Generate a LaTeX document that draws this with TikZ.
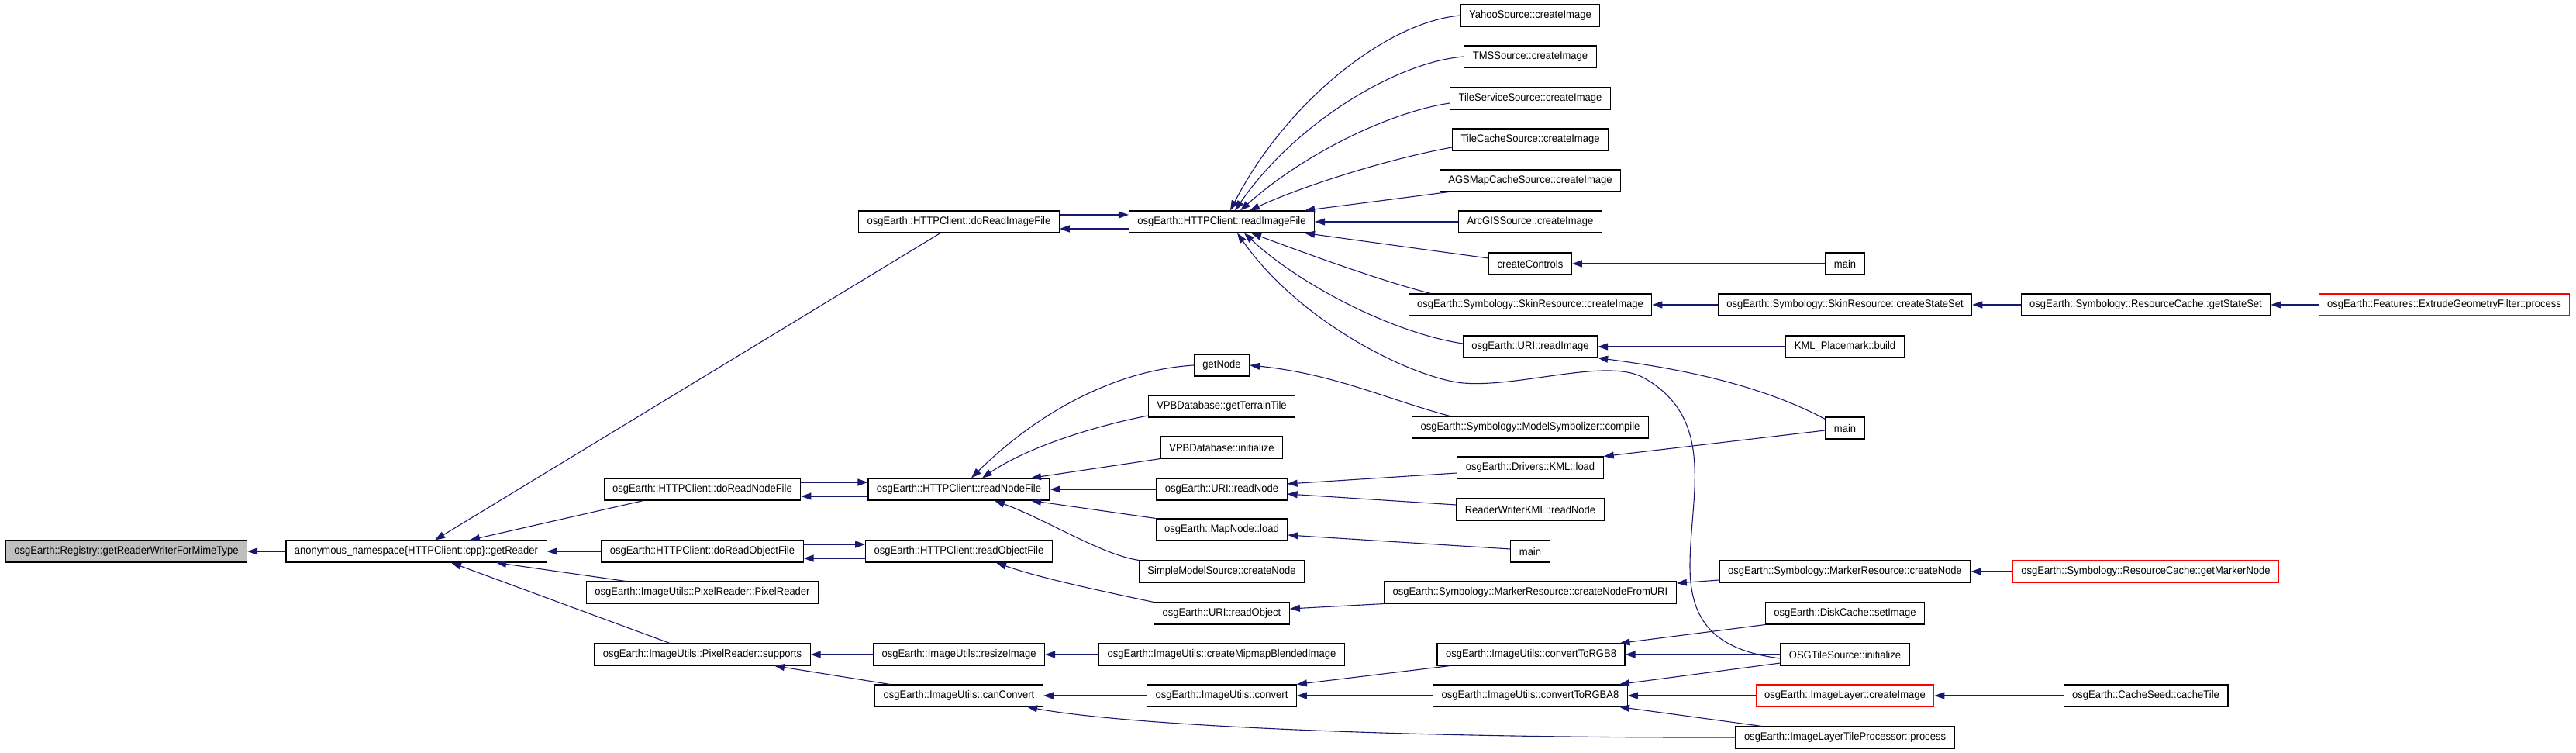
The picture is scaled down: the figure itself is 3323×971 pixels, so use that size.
\documentclass[tikz,border=0pt]{standalone}
\usepackage{fontspec}
\newfontfamily\graphfont{Liberation Sans}[FakeStretch=0.93]
\usepackage{xcolor}
\usetikzlibrary{arrows.meta, calc}

\definecolor{edgeblue}{HTML}{191970}
\tikzset{
  fn/.style={draw=black, fill=white, line width=1.1pt, minimum height=28pt,
    inner xsep=11pt, inner ysep=0pt, font=\graphfont\fontsize{14}{16}\selectfont},
  fnroot/.style={fn, fill=gray!50},
  fnhot/.style={fn, draw=red},
  call/.style={draw=edgeblue, line width=1.1pt, -{Triangle[length=13pt,width=9pt]}}
}

\begin{document}
\begin{tikzpicture}[x=1pt, y=-1pt]
  % canvas = 3323 x 971 px, one px = 1pt, y grows downwards
  \useasboundingbox (0,0) rectangle (3323,971);
  % column 1-2: root and getReader
  \node[fnroot] (reg) at (163,711) {osgEarth::Registry::getReaderWriterForMimeType};
  \node[fn] (getrd) at (537,711) {anonymous\_namespace\{HTTPClient::cpp\}::getReader};
  % column 3: HTTPClient::doRead* and PixelReader
  \node[fn] (drnf) at (906,631) {osgEarth::HTTPClient::doReadNodeFile};
  \node[fn] (drof) at (906,711) {osgEarth::HTTPClient::doReadObjectFile};
  \node[fn] (prpr) at (906,764) {osgEarth::ImageUtils::PixelReader::PixelReader};
  \node[fn] (prsup) at (906,844) {osgEarth::ImageUtils::PixelReader::supports};
  % column 4
  \node[fn] (drif) at (1237,286) {osgEarth::HTTPClient::doReadImageFile};
  \node[fn] (rnf) at (1237,631) {osgEarth::HTTPClient::readNodeFile};
  \node[fn] (rof) at (1237,711) {osgEarth::HTTPClient::readObjectFile};
  \node[fn] (resz) at (1237,844) {osgEarth::ImageUtils::resizeImage};
  \node[fn] (canc) at (1237,897) {osgEarth::ImageUtils::canConvert};
  % column 5
  \node[fn] (rif) at (1576,286) {osgEarth::HTTPClient::readImageFile};
  \node[fn] (getnode) at (1576,471) {getNode};
  \node[fn] (vpbtt) at (1576,524) {VPBDatabase::getTerrainTile};
  \node[fn] (vpbinit) at (1576,577) {VPBDatabase::initialize};
  \node[fn] (urinode) at (1576,631) {osgEarth::URI::readNode};
  \node[fn] (mapload) at (1576,683) {osgEarth::MapNode::load};
  \node[fn] (smscn) at (1576,737) {SimpleModelSource::createNode};
  \node[fn] (uriobj) at (1576,791) {osgEarth::URI::readObject};
  \node[fn] (mipmap) at (1576,844) {osgEarth::ImageUtils::createMipmapBlendedImage};
  \node[fn] (conv) at (1576,897) {osgEarth::ImageUtils::convert};
  % column 6
  \node[fn] (yahoo) at (1974,20) {YahooSource::createImage};
  \node[fn] (tms) at (1974,73) {TMSSource::createImage};
  \node[fn] (tiles) at (1974,127) {TileServiceSource::createImage};
  \node[fn] (tilec) at (1974,180) {TileCacheSource::createImage};
  \node[fn] (ags) at (1974,233) {AGSMapCacheSource::createImage};
  \node[fn] (arcgis) at (1974,286) {ArcGISSource::createImage};
  \node[fn] (ctrls) at (1974,340) {createControls};
  \node[fn] (skinci) at (1974,393) {osgEarth::Symbology::SkinResource::createImage};
  \node[fn] (urimg) at (1974,447) {osgEarth::URI::readImage};
  \node[fn] (msc) at (1974,551) {osgEarth::Symbology::ModelSymbolizer::compile};
  \node[fn] (kmlload) at (1974,603) {osgEarth::Drivers::KML::load};
  \node[fn] (rwkml) at (1974,657) {ReaderWriterKML::readNode};
  \node[fn] (main3) at (1974,711) {main};
  \node[fn] (mrcnfu) at (1974,764) {osgEarth::Symbology::MarkerResource::createNodeFromURI};
  \node[fn] (rgb8) at (1975,844) {osgEarth::ImageUtils::convertToRGB8};
  \node[fn] (rgba8) at (1974,897) {osgEarth::ImageUtils::convertToRGBA8};
  % column 7
  \node[fn] (main1) at (2380,340) {main};
  \node[fn] (skinss) at (2380,393) {osgEarth::Symbology::SkinResource::createStateSet};
  \node[fn] (kmlpb) at (2380,447) {KML\_Placemark::build};
  \node[fn] (main2) at (2380,552) {main};
  \node[fn] (mrcn) at (2380,737) {osgEarth::Symbology::MarkerResource::createNode};
  \node[fn] (dcset) at (2380,791) {osgEarth::DiskCache::setImage};
  \node[fn] (osgts) at (2380,844) {OSGTileSource::initialize};
  \node[fnhot] (ilci) at (2380,897) {osgEarth::ImageLayer::createImage};
  \node[fn] (iltp) at (2380,951) {osgEarth::ImageLayerTileProcessor::process};
  % column 8-9
  \node[fn] (rcss) at (2768,393) {osgEarth::Symbology::ResourceCache::getStateSet};
  \node[fnhot] (rcmn) at (2768,737) {osgEarth::Symbology::ResourceCache::getMarkerNode};
  \node[fn] (cseed) at (2768,897) {osgEarth::CacheSeed::cacheTile};
  \node[fnhot] (egf) at (3153,393) {osgEarth::Features::ExtrudeGeometryFilter::process};

  % straight horizontal calls
  \foreach \a/\b in {getrd/reg, drof/getrd, arcgis/rif, main1/ctrls, skinss/skinci,
      rcss/skinss, egf/rcss, kmlpb/urimg, urinode/rnf, mipmap/resz, resz/prsup,
      conv/canc, rgba8/conv, osgts/rgb8, ilci/rgba8, cseed/ilci, rcmn/mrcn}
    \draw[call] (\a) -- (\b);
  % doRead* <-> read* pairs
  \foreach \lo/\hi in {drif/rif, drnf/rnf, drof/rof} {
    \draw[call] ($(\lo.east)+(0,-9)$) -- ($(\hi.west)+(0,-9)$);
    \draw[call] ($(\hi.west)+(0,9)$) -- ($(\lo.east)+(0,9)$);
  }
  % into getReader
  \draw[call] ($(drif.south)+(-24,0)$) -- ($(getrd.north)+(24,0)$);
  \draw[call] ($(drnf.south)+(-76,0)$) -- ($(getrd.north)+(69,0)$);
  \draw[call] ($(prpr.north)+(-99,0)$) -- ($(getrd.south)+(103,0)$);
  \draw[call] ($(prsup.north)+(-42,0)$) -- ($(getrd.south)+(45,0)$);
  % into readImageFile
  \draw[call] (yahoo.west) .. controls (1790,28) and (1660,130) .. ($(rif.north)+(11,0)$);
  \draw[call] (tms.west) .. controls (1800,80) and (1670,160) .. ($(rif.north)+(17,0)$);
  \draw[call] ($(tiles.west)+(0,6)$) .. controls (1790,145) and (1680,200) .. ($(rif.north)+(24,0)$);
  \draw[call] ($(tilec.west)+(0,10)$) .. controls (1790,205) and (1680,240) .. ($(rif.north)+(36,0)$);
  \draw[call] ($(ags.south west)+(12,0)$) -- ($(rif.north east)+(-13,0)$);
  \draw[call] ($(ctrls.west)+(0,-7)$) -- ($(rif.south east)+(-13,0)$);
  \draw[call] ($(skinci.north west)+(29,0)$) .. controls (1780,362) and (1680,325) .. ($(rif.south)+(38,0)$);
  \draw[call] ($(urimg.west)+(0,-4)$) .. controls (1800,430) and (1680,370) .. ($(rif.south)+(29,0)$);
  \draw[call] ($(osgts.west)+(0,5)$) .. controls (2210,838) and (2180,800) .. (2180,730)
    .. controls (2180,640) and (2215,540) .. (2120,487)
    .. controls (2073,461) and (1960,500) .. (1888,494)
    .. controls (1828,489) and (1680,420) .. ($(rif.south)+(20,0)$);
  % into readNodeFile
  \draw[call] (getnode.west) .. controls (1430,478) and (1330,540) .. ($(rnf.north)+(16,0)$);
  \draw[call] ($(vpbtt.west)+(0,12)$) .. controls (1400,552) and (1320,580) .. ($(rnf.north)+(30,0)$);
  \draw[call] (vpbinit.south west) -- ($(rnf.north)+(93,0)$);
  \draw[call] (mapload.north west) -- ($(rnf.south)+(93,0)$);
  \draw[call] (smscn.north west) .. controls (1420,715) and (1350,670) .. ($(rnf.south)+(46,0)$);
  % readObjectFile and its callers
  \draw[call] (uriobj.north west) .. controls (1420,762) and (1340,745) .. ($(rof.south)+(48,0)$);
  \draw[call] (mrcnfu.south west) -- ($(uriobj.east)+(0,-6)$);
  \draw[call] ($(mrcn.west)+(0,11)$) -- ($(mrcnfu.east)+(0,-12)$);
  % URI / KML / main
  \draw[call] ($(msc.north west)+(49,0)$) .. controls (1790,515) and (1720,482) .. (getnode.east);
  \draw[call] ($(main2.north west)+(0,3)$) .. controls (2260,490) and (2140,472) .. (urimg.south east);
  \draw[call] ($(main2.west)+(0,3)$) -- (kmlload.north east);
  \draw[call] ($(kmlload.west)+(0,7)$) -- ($(urinode.east)+(0,-7)$);
  \draw[call] ($(rwkml.west)+(0,-6)$) -- ($(urinode.east)+(0,6)$);
  \draw[call] ($(main3.west)+(0,-3)$) -- ($(mapload.east)+(0,7)$);
  % image conversion
  \draw[call] ($(canc.north)+(-89,0)$) -- ($(prsup.south)+(93,0)$);
  \draw[call] (iltp.west) .. controls (1800,952) and (1450,935) .. ($(canc.south)+(88,0)$);
  \draw[call] ($(rgb8.south west)+(17,0)$) -- (conv.north east);
  \draw[call] (dcset.south west) -- ($(rgb8.north east)+(-7,0)$);
  \draw[call] ($(osgts.west)+(0,11)$) -- ($(rgba8.north east)+(-11,0)$);
  \draw[call] ($(iltp.north west)+(34,0)$) -- ($(rgba8.south east)+(-11,0)$);
\end{tikzpicture}
\end{document}
